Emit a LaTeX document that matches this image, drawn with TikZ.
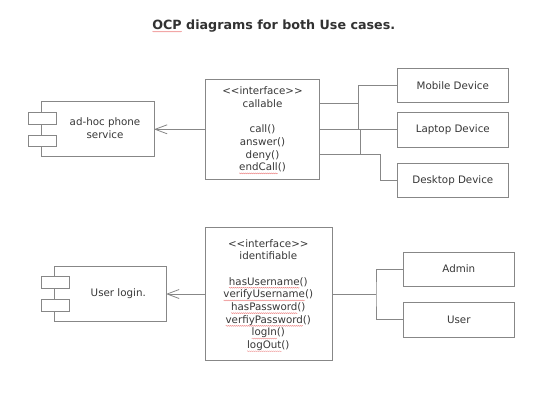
\documentclass[tikz,border=0pt]{standalone}
\usepackage{fontspec}
\setmainfont{DejaVu Sans}
\usetikzlibrary{arrows.meta,decorations.pathmorphing,calc}
\definecolor{edge}{RGB}{135,135,135}
\definecolor{txt}{RGB}{55,55,55}
\definecolor{ttl}{RGB}{50,50,50}
\definecolor{wavy}{RGB}{235,120,120}
\newcommand{\ltch}{\mbox{<}}
\newcommand{\gtch}{\mbox{>}}
\newcommand{\spell}[1]{\tikz[baseline=(sw.base)]{\node[inner sep=0pt,outer sep=0pt,draw=none,fill=none,anchor=base](sw){#1};\draw[overlay,wavy,line width=0.3pt,decorate,decoration={snake,amplitude=0.5pt,segment length=2pt}]([yshift=-2.6pt]sw.base west)--([yshift=-2.6pt]sw.base east);}}
\begin{document}
\begin{tikzpicture}[x=1pt,y=-1pt,
  box/.style={draw=edge,line width=0.8pt,fill=white,inner sep=0pt,outer sep=0pt},
  lbl/.style={text=txt,font=\fontsize{10.3}{12.7}\selectfont,align=center,inner sep=0pt},
  dev/.style={box,lbl,minimum width=111pt},
  conn/.style={draw=edge,line width=0.8pt},
  dep/.style={conn,-{Straight Barb[length=12pt,width=9pt,line width=0.8pt]}}]
\useasboundingbox (0,0) rectangle (545,408);
% title
\node[anchor=base,inner sep=0pt,text=ttl,font=\fontsize{12.7}{15}\selectfont\bfseries] (title) at (273.8,29) {\spell{OCP} diagrams for both Use cases.};
% ---- first use case
\node[box,minimum width=112.3pt,minimum height=55pt] (comp1) at (97.85,129.2) {};
\node[box,minimum width=28.4pt,minimum height=11.7pt] (c1a) at (42.5,118.15) {};
\node[box,minimum width=28.4pt,minimum height=11pt] (c1b) at (42.5,140.5) {};
\node[lbl] (comp1t) at (105,128.5) {ad-hoc phone\\service};
\node[box,minimum width=113.6pt,minimum height=100pt] (iface1) at (262.5,129) {};
\node[lbl] (iface1t) at (262.5,129.4) {\ltch\ltch interface\gtch\gtch\\callable\\[12.7pt]call()\\answer()\\deny()\\\spell{endCall}()};
\node[dev,minimum height=34.4pt] (mobile) at (452.8,85.5) {Mobile Device};
\node[dev,minimum height=35pt] (laptop) at (452.8,129.8) {Laptop Device};
\node[dev,minimum height=34.4pt] (desktop) at (452.8,180.5) {Desktop Device};
\draw[conn] (iface1.east |- 0,103.3) -- (358,103.3);
\draw[conn] (mobile.west) -| (358,129.8);
\draw[conn] (iface1.east |- laptop.west) -- (laptop.west);
\draw[conn] (360,129.8) -- (360,154.3);
\draw[conn] (iface1.east |- 0,154.3) -| (380,180.5) -- (desktop.west);
\draw[dep] (iface1.west |- 0,129.3) -- (comp1.east |- 0,129.3);
% ---- second use case
\node[box,minimum width=111.7pt,minimum height=54.3pt] (comp2) at (110.15,293.85) {};
\node[box,minimum width=28.3pt,minimum height=11.6pt] (c2a) at (55.15,282.5) {};
\node[box,minimum width=28.3pt,minimum height=11.7pt] (c2b) at (55.15,305.15) {};
\node[lbl] (comp2t) at (118.3,293.3) {User login.};
\node[box,minimum width=126.6pt,minimum height=133.4pt] (iface2) at (269,294) {};
\node[lbl] (iface2t) at (268.3,295) {\ltch\ltch interface\gtch\gtch\\identifiable\\[12.7pt]\spell{hasUsername}()\\\spell{verifyUsername}()\\\spell{hasPassword}()\\\spell{verfiyPassword}()\\\spell{logIn}()\\\spell{logOut}()};
\node[dev,minimum height=33.7pt] (admin) at (458.8,269.15) {Admin};
\node[dev,minimum height=35pt] (user) at (458.8,319.8) {User};
\draw[conn] (iface2.east |- 0,294) -- (376,294);
\draw[conn] (admin.west) -| (376,294) |- (user.west);
\draw[dep] (iface2.west |- 0,294) -- (comp2.east |- 0,294);
\end{tikzpicture}
\end{document}
